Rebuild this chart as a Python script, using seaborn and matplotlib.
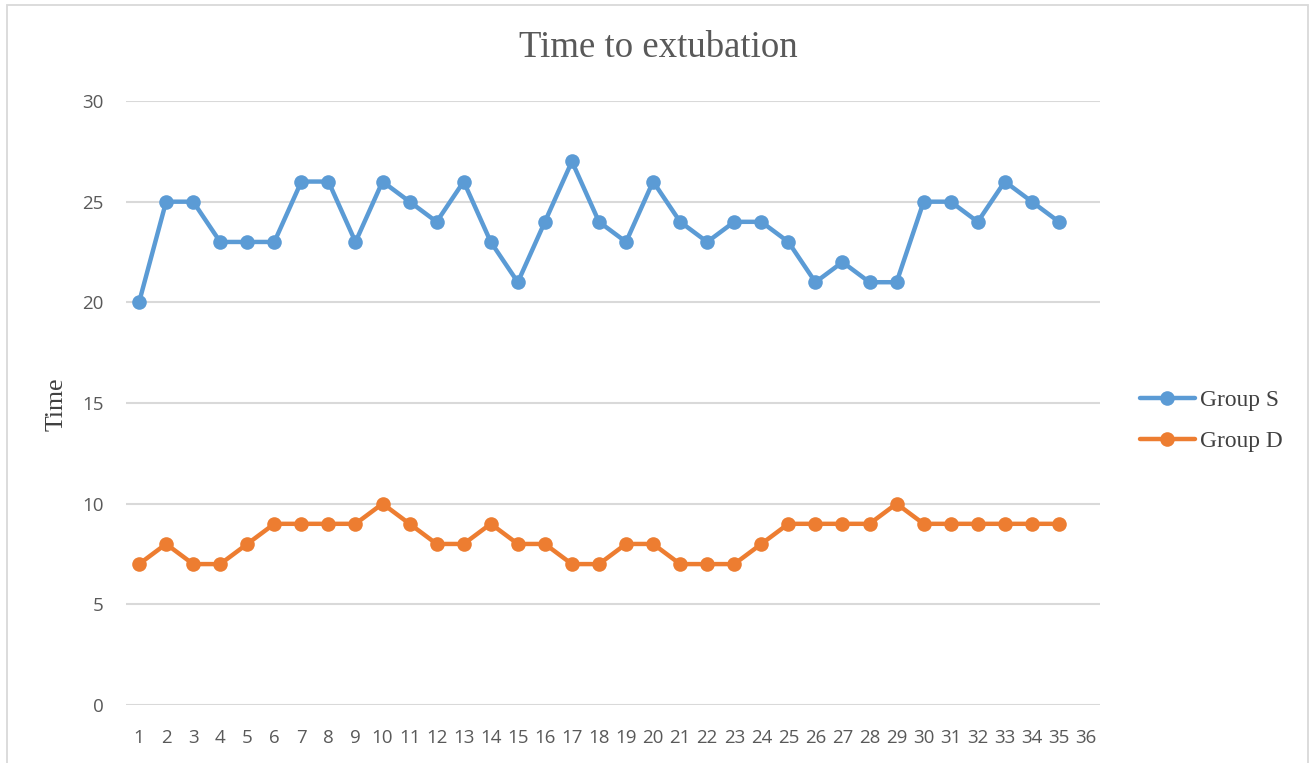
import matplotlib
matplotlib.use("Agg")
import matplotlib.pyplot as plt
from matplotlib.patches import Rectangle
import seaborn as sns
import pandas as pd

# Time to extubation per patient, two groups
patients = list(range(1, 36))
group_s = [20, 25, 25, 23, 23, 23, 26, 26, 23, 26, 25, 24, 26, 23, 21, 24, 27, 24,
           23, 26, 24, 23, 24, 24, 23, 21, 22, 21, 21, 25, 25, 24, 26, 25, 24]
group_d = [7, 8, 7, 7, 8, 9, 9, 9, 9, 10, 9, 8, 8, 9, 8, 8, 7, 7,
           8, 8, 7, 7, 7, 8, 9, 9, 9, 9, 10, 9, 9, 9, 9, 9, 9]
x_ticks = list(range(1, 37))
y_ticks = [0, 5, 10, 15, 20, 25, 30]
series_names = ["Group S", "Group D"]
colors = ["#5B9BD5", "#ED7D31"]

df = pd.DataFrame({
    "Patient": patients * 2,
    "Time": group_s + group_d,
    "Group": [series_names[0]] * len(patients) + [series_names[1]] * len(patients),
})

sns.set_theme(style="white")
plt.rcParams["font.family"] = ["Open Sans", "DejaVu Sans"]

W, H = 1313, 763
fig = plt.figure(figsize=(W / 100, H / 100), dpi=100)
ax = fig.add_axes([0.0956, 0.076, 0.7418, 0.7916])

sns.lineplot(data=df, x="Patient", y="Time", hue="Group", hue_order=series_names,
             palette=colors, marker="o", markersize=10.5, markeredgewidth=0,
             linewidth=3.2, ax=ax, legend=True)

ax.set_xlim(0.5, 36.5)
ax.set_ylim(0, 30)
ax.set_xticks(x_ticks)
ax.set_xticklabels([str(t) for t in x_ticks])
ax.set_yticks(y_ticks)
ax.yaxis.grid(True, color="#D9D9D9", linewidth=1.5)
ax.set_axisbelow(True)
for s in ax.spines.values():
    s.set_visible(False)
ax.tick_params(axis="both", length=0, labelsize=13.5, labelcolor="#595959")
ax.tick_params(axis="y", pad=15.5)
ax.tick_params(axis="x", pad=17)

ax.set_xlabel("")
ax.set_ylabel("")
fig.text(57 / W, 1 - 404 / H, "Time", rotation=90, ha="center", va="center",
         fontsize=18.5, color="#404040", family="Liberation Serif")
fig.text(658 / W, 1 - 48 / H, "Time to extubation", ha="center", va="center",
         fontsize=26.5, color="#595959", family="Liberation Serif")

leg = ax.legend(loc="center left", bbox_to_anchor=(1140 / W, 1 - 421 / H),
                bbox_transform=fig.transFigure, frameon=False,
                prop={"family": "Liberation Serif", "size": 16.8},
                handlelength=2.35, handletextpad=0.2, labelspacing=0.85,
                borderaxespad=0, borderpad=0)
for t in leg.get_texts():
    t.set_color("#404040")

# chart frame
fig.patches.append(Rectangle((7 / W, -0.01), 1301 / W, 1 - 5 / H + 0.01,
                             transform=fig.transFigure, fill=False,
                             edgecolor="#D9D9D9", linewidth=1.3))

fig.savefig("out.png", dpi=100, facecolor="white")
